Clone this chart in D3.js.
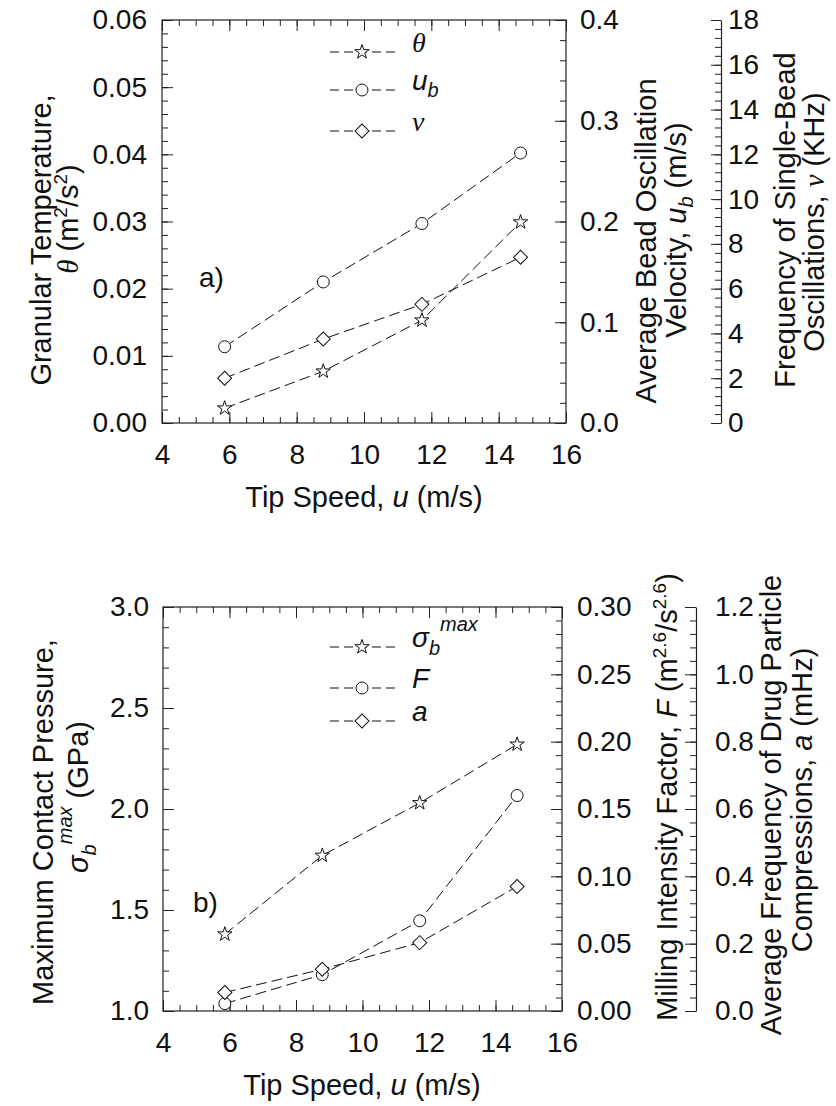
<!DOCTYPE html>
<html>
<head>
<meta charset="utf-8">
<script src="https://cdn.jsdelivr.net/npm/d3@7"></script>
<style>
  body { margin: 0; background: #fff; }
  svg { display: block; }
</style>
</head>
<body>
<svg width="836" height="1106"></svg>
<script>
const FONT = "'Liberation Sans', Arial, sans-serif";
const SERIF = "'Liberation Serif', 'Times New Roman', serif";
const FS = 28;      // tick labels, legend
const TFS = 29;     // axis titles

// data
const tipSpeed = [5.86, 8.79, 11.72, 14.65];
const theta = [0.0022, 0.0077, 0.0153, 0.0299];
const beadVel = [0.0757, 0.140, 0.198, 0.268];
const beadFreq = [2.0, 3.75, 5.3, 7.4];
const sigmaMax = [1.38, 1.77, 2.03, 2.32];
const millF = [0.0055, 0.027, 0.067, 0.160];
const compFreq = [0.055, 0.124, 0.203, 0.37];

// tick labels
const xTicks = [4, 6, 8, 10, 12, 14, 16];
const thetaTicks = [0, 0.01, 0.02, 0.03, 0.04, 0.05, 0.06];
const velTicks = [0, 0.1, 0.2, 0.3, 0.4];
const freqTicks = [0, 2, 4, 6, 8, 10, 12, 14, 16, 18];
const sigmaTicks = [1.0, 1.5, 2.0, 2.5, 3.0];
const millTicks = [0, 0.05, 0.10, 0.15, 0.20, 0.25, 0.30];
const compTicks = [0, 0.2, 0.4, 0.6, 0.8, 1.0, 1.2];

const svg = d3.select("svg");

function minors(lo, hi, step) {
  return d3.range(0, Math.round((hi - lo) / step) + 1).map(i => lo + i * step);
}

// rich text: parts = [{t, it, serif, size, shift}]
function rich(text, parts) {
  let cur = 0;
  parts.forEach(p => {
    const s = p.shift || 0;
    const ts = text.append("tspan").text(p.t).attr("dy", s - cur);
    cur = s;
    if (p.it) ts.attr("font-style", "italic");
    if (p.serif) ts.attr("font-family", SERIF);
    if (p.size) ts.attr("font-size", p.size);
  });
  return text;
}

function vTitle(x, y, parts) {
  const t = svg.append("text")
    .attr("transform", `translate(${x},${y}) rotate(-90)`)
    .attr("text-anchor", "middle")
    .attr("font-family", FONT).attr("font-size", TFS).attr("fill", "#111");
  rich(t, parts);
}

function styleAxis(g) {
  g.attr("font-family", FONT).attr("font-size", FS).attr("color", "#222");
  g.selectAll("text").attr("fill", "#111");
  g.selectAll("line").attr("stroke-width", 1);
  return g;
}

function axisPair(axisFn, scale, transform, major, minorVals, len, pad, fmt, domain) {
  const g = svg.append("g").attr("transform", transform);
  g.call(axisFn(scale).tickValues(minorVals).tickSize(-6).tickFormat(""));
  g.select(".domain").remove();
  const m = svg.append("g").attr("transform", transform);
  m.call(axisFn(scale).tickValues(major).tickSizeInner(-len).tickSizeOuter(0)
    .tickPadding(pad).tickFormat(fmt ? d3.format(fmt) : ""));
  if (!domain) m.select(".domain").remove();
  else m.select(".domain").attr("stroke-width", 1.2);
  styleAxis(g); styleAxis(m);
  return m;
}

const star = d3.symbol().type(d3.symbolStar).size(64)();
const circ = d3.symbol().type(d3.symbolCircle).size(113)();
const diam = d3.symbol().type(d3.symbolSquare).size(98)();

function marker(g, shape, x, y) {
  g.append("path").attr("d", shape)
    .attr("transform", `translate(${x},${y})` + (shape === diam ? " rotate(45)" : ""))
    .attr("fill", "#fff").attr("stroke", "#111").attr("stroke-width", 1);
}

function series(x, y, values, shape) {
  const g = svg.append("g");
  const line = d3.line().x((d, i) => x(tipSpeed[i])).y(d => y(d));
  g.append("path").attr("d", line(values))
    .attr("fill", "none").attr("stroke", "#111").attr("stroke-width", 1)
    .attr("stroke-dasharray", "11,5");
  values.forEach((d, i) => marker(g, shape, x(tipSpeed[i]), y(d)));
}

function legendRow(y, shape, parts) {
  const g = svg.append("g");
  g.append("line").attr("x1", 330).attr("x2", 395).attr("y1", y).attr("y2", y)
    .attr("stroke", "#111").attr("stroke-dasharray", "9,5");
  marker(g, shape, 362, y);
  const t = svg.append("text").attr("x", 412).attr("y", y).attr("dy", "0.35em")
    .attr("font-family", FONT).attr("font-size", FS).attr("fill", "#111");
  rich(t, parts);
}

function frame(x, y) {
  svg.append("rect")
    .attr("x", x.range()[0]).attr("y", y.range()[1])
    .attr("width", x.range()[1] - x.range()[0])
    .attr("height", y.range()[0] - y.range()[1])
    .attr("fill", "none").attr("stroke", "#222").attr("stroke-width", 1.2);
}

// ---------- panel a ----------
{
  const x = d3.scaleLinear().domain([4, 16]).range([162, 566]);
  const y = d3.scaleLinear().domain([0, 0.06]).range([423, 20]);
  const yV = d3.scaleLinear().domain([0, 0.4]).range([423, 20]);
  const yN = d3.scaleLinear().domain([0, 18]).range([423, 20]);

  axisPair(d3.axisBottom, x, "translate(0,423)", xTicks, minors(4, 16, 0.5), 11, 21, "d");
  axisPair(d3.axisTop, x, "translate(0,20)", xTicks, minors(4, 16, 0.5), 11, 0, null);
  axisPair(d3.axisLeft, y, "translate(162,0)", thetaTicks, minors(0, 0.06, 0.002), 11, 15, ".2f");
  axisPair(d3.axisRight, yV, "translate(566,0)", velTicks, minors(0, 0.4, 0.02), 11, 14, ".1f");
  axisPair(d3.axisRight, yN, "translate(721,0)", freqTicks, minors(0, 18, 0.4), 10, 7, "d", true);
  frame(x, y);

  series(x, y, theta, star);
  series(x, yV, beadVel, circ);
  series(x, yN, beadFreq, diam);

  legendRow(52, star, [{t: "θ", it: true, serif: true}]);
  legendRow(90, circ, [{t: "u", it: true}, {t: "b", it: true, size: 20, shift: 7}]);
  legendRow(131, diam, [{t: "ν", it: true, serif: true}]);

  svg.append("text").attr("x", 199).attr("y", 287).text("a)")
    .attr("font-family", FONT).attr("font-size", FS).attr("fill", "#111");

  vTitle(51, 240, [{t: "Granular Temperature,"}]);
  vTitle(78, 219, [{t: "θ", it: true, serif: true}, {t: " (m"}, {t: "2", size: 19, shift: -11},
    {t: "/s"}, {t: "2", size: 19, shift: -11}, {t: ")"}]);
  vTitle(656, 241, [{t: "Average Bead Oscillation"}]);
  vTitle(686, 230, [{t: "Velocity, "}, {t: "u", it: true}, {t: "b", it: true, size: 20, shift: 7},
    {t: " (m/s)"}]);
  vTitle(795, 220, [{t: "Frequency of Single-Bead"}]);
  vTitle(824, 222, [{t: "Oscillations,  "}, {t: "ν", it: true, serif: true}, {t: " (KHz)"}]);

  const xt = svg.append("text").attr("x", 364).attr("y", 507).attr("text-anchor", "middle")
    .attr("font-family", FONT).attr("font-size", TFS).attr("fill", "#111");
  rich(xt, [{t: "Tip Speed, "}, {t: "u", it: true}, {t: " (m/s)"}]);
}

// ---------- panel b ----------
{
  const x = d3.scaleLinear().domain([4, 16]).range([163, 562]);
  const y = d3.scaleLinear().domain([1, 3]).range([1011, 607]);
  const yF = d3.scaleLinear().domain([0, 0.3]).range([1011, 607]);
  const yA = d3.scaleLinear().domain([0, 1.2]).range([1011, 607]);

  axisPair(d3.axisBottom, x, "translate(0,1011)", xTicks, minors(4, 16, 0.5), 11, 21, "d");
  axisPair(d3.axisTop, x, "translate(0,607)", xTicks, minors(4, 16, 0.5), 11, 0, null);
  axisPair(d3.axisLeft, y, "translate(163,0)", sigmaTicks, minors(1, 3, 0.1), 11, 14, ".1f");
  axisPair(d3.axisRight, yF, "translate(562,0)", millTicks, minors(0, 0.3, 0.01), 11, 15, ".2f");
  axisPair(d3.axisRight, yA, "translate(696,0)", compTicks, minors(0, 1.2, 0.04), 11, 19, ".1f", true);
  frame(x, y);

  series(x, y, sigmaMax, star);
  series(x, yF, millF, circ);
  series(x, yA, compFreq, diam);

  legendRow(647, star, [{t: "σ", it: true}, {t: "b", it: true, size: 20, shift: 8},
    {t: "max", it: true, size: 20, shift: -16}]);
  legendRow(688, circ, [{t: "F", it: true}]);
  legendRow(721, diam, [{t: "a", it: true}]);

  svg.append("text").attr("x", 193).attr("y", 912).text("b)")
    .attr("font-family", FONT).attr("font-size", FS).attr("fill", "#111");

  vTitle(53, 822, [{t: "Maximum Contact Pressure,"}]);
  vTitle(88, 797, [{t: "σ", it: true}, {t: "b", it: true, size: 20, shift: 8},
    {t: "max", it: true, size: 20, shift: -16}, {t: " (GPa)"}]);
  vTitle(677, 797, [{t: "Milling Intensity Factor, "}, {t: "F", it: true}, {t: " (m"},
    {t: "2.6", size: 19, shift: -11}, {t: "/s"}, {t: "2.6", size: 19, shift: -11}, {t: ")"}]);
  vTitle(781, 805, [{t: "Average Frequency of Drug Particle"}]);
  vTitle(812, 800, [{t: "Compressions, "}, {t: "a", it: true}, {t: " (mHz)"}]);

  const xt = svg.append("text").attr("x", 362).attr("y", 1095).attr("text-anchor", "middle")
    .attr("font-family", FONT).attr("font-size", TFS).attr("fill", "#111");
  rich(xt, [{t: "Tip Speed, "}, {t: "u", it: true}, {t: " (m/s)"}]);
}
</script>
</body>
</html>
